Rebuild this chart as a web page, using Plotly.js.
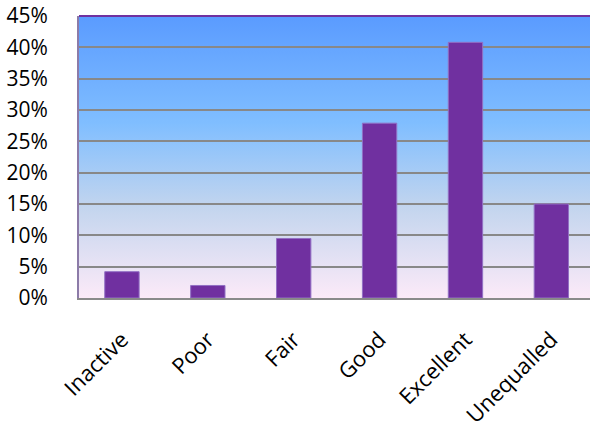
<!DOCTYPE html>
<html>
<head>
<meta charset="utf-8">
<script src="https://cdn.plot.ly/plotly-3.0.1.min.js"></script>
<style>html,body{margin:0;padding:0;background:#fff;}#chart{width:590px;height:428px;}</style>
</head>
<body>
<div id="chart"></div>
<script>
const categories = ["Inactive", "Poor", "Fair", "Good", "Excellent", "Unequalled"];
const values = [0.042, 0.020, 0.095, 0.279, 0.408, 0.150];
const yTickValues = [0, 0.05, 0.10, 0.15, 0.20, 0.25, 0.30, 0.35, 0.40, 0.45];
const yTickLabels = ["0%", "5%", "10%", "15%", "20%", "25%", "30%", "35%", "40%", "45%"];

const gradSvg = '<svg xmlns="http://www.w3.org/2000/svg" width="100" height="100" preserveAspectRatio="none">' +
  '<defs><linearGradient id="g" x1="0" y1="0" x2="0" y2="1">' +
  '<stop offset="0" stop-color="#5A9BFF"/>' +
  '<stop offset="0.38" stop-color="#80BEFF"/>' +
  '<stop offset="0.68" stop-color="#C3D5EE"/>' +
  '<stop offset="1" stop-color="#FCEAF8"/>' +
  '</linearGradient></defs><rect width="100" height="100" fill="url(#g)"/></svg>';
const gradUri = 'data:image/svg+xml;charset=utf-8,' + encodeURIComponent(gradSvg);

const trace = {
  type: 'bar',
  x: categories,
  y: values,
  width: 0.4,
  marker: {color: '#7030A0', line: {color: '#9270C4', width: 1}},
  hoverinfo: 'none'
};

const layout = {
  width: 590,
  height: 428,
  margin: {l: 79, r: 0, t: 16, b: 130, pad: 0},
  paper_bgcolor: '#ffffff',
  plot_bgcolor: 'rgba(0,0,0,0)',
  showlegend: false,
  bargap: 0.6,
  font: {family: 'Open Sans, sans-serif', size: 21, color: '#000000'},
  xaxis: {
    type: 'category',
    range: [-0.5, 5.45],
    tickangle: -45,
    ticks: '',
    showgrid: false,
    showline: true,
    linecolor: '#8a8a8a',
    linewidth: 2,
    ticklabelstandoff: 18,
    tickfont: {size: 22}
  },
  yaxis: {
    range: [0, 0.45],
    tickvals: yTickValues,
    ticktext: yTickLabels,
    ticks: '',
    showgrid: true,
    gridcolor: '#888888',
    gridwidth: 2,
    zeroline: false,
    showline: true,
    linecolor: '#8C7BA8',
    linewidth: 2,
    ticklabelstandoff: 25,
    tickfont: {size: 21}
  },
  images: [{
    source: gradUri,
    xref: 'paper', yref: 'paper',
    x: 0, y: 1, sizex: 1, sizey: 1,
    xanchor: 'left', yanchor: 'top',
    sizing: 'stretch',
    layer: 'below'
  }],
  shapes: [{
    type: 'line', xref: 'paper', yref: 'paper',
    x0: 0, x1: 1, y0: 1, y1: 1,
    line: {color: '#7030A0', width: 2}
  }]
};

Plotly.newPlot('chart', [trace], layout, {staticPlot: true, displayModeBar: false});
</script>
</body>
</html>
